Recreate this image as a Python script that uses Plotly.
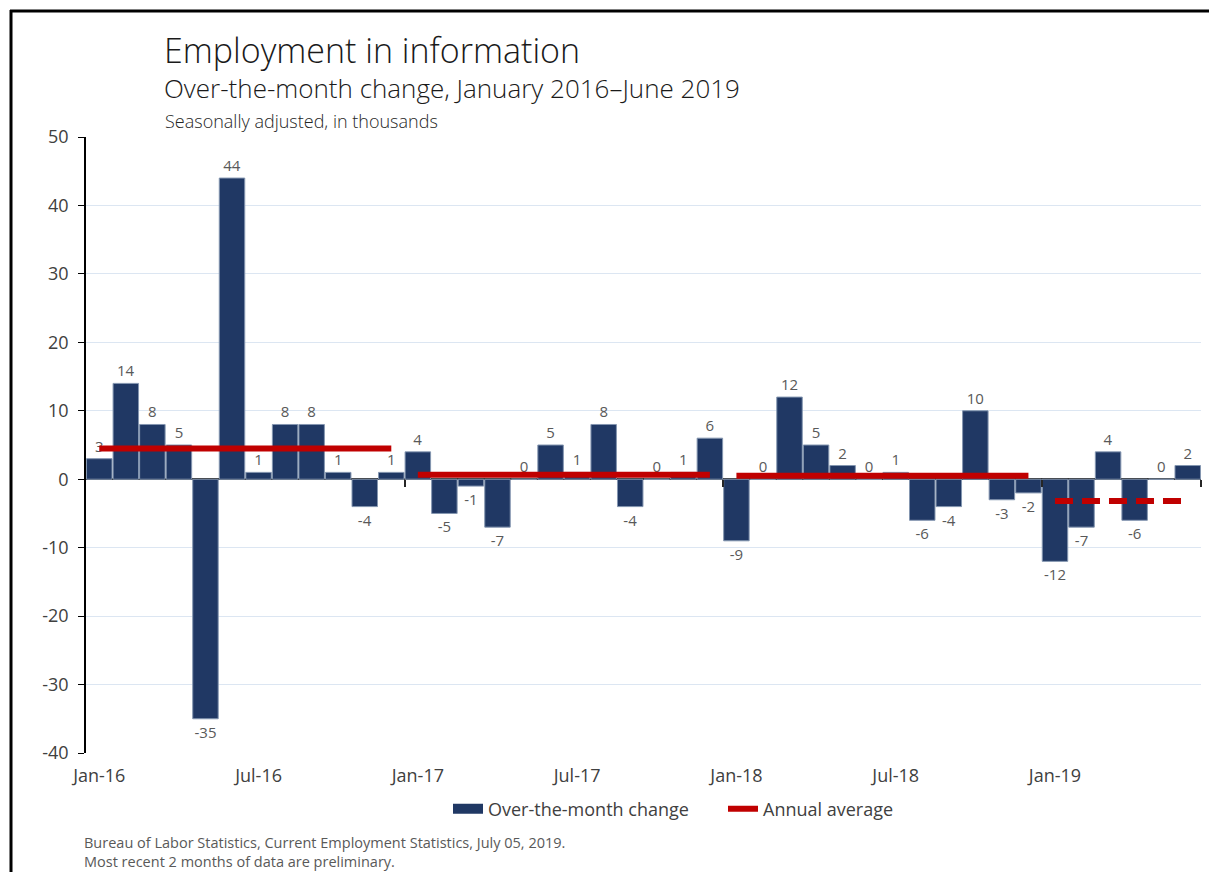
import plotly.graph_objects as go

months = ["Jan-16","Feb-16","Mar-16","Apr-16","May-16","Jun-16","Jul-16","Aug-16","Sep-16","Oct-16","Nov-16","Dec-16",
          "Jan-17","Feb-17","Mar-17","Apr-17","May-17","Jun-17","Jul-17","Aug-17","Sep-17","Oct-17","Nov-17","Dec-17",
          "Jan-18","Feb-18","Mar-18","Apr-18","May-18","Jun-18","Jul-18","Aug-18","Sep-18","Oct-18","Nov-18","Dec-18",
          "Jan-19","Feb-19","Mar-19","Apr-19","May-19","Jun-19"]
changes = [3, 14, 8, 5, -35, 44, 1, 8, 8, 1, -4, 1,
           4, -5, -1, -7, 0, 5, 1, 8, -4, 0, 1, 6,
           -9, 0, 12, 5, 2, 0, 1, -6, -4, 10, -3, -2,
           -12, -7, 4, -6, 0, 2]
years = ["2016", "2017", "2018", "2019"]
annual_avg = [4.5, 0.67, 0.5, -3.17]
tick_labels = ["Jan-16", "Jul-16", "Jan-17", "Jul-17", "Jan-18", "Jul-18", "Jan-19"]
y_ticks = [-40, -30, -20, -10, 0, 10, 20, 30, 40, 50]

FONT = "Open Sans"
BAR = "#203864"
RED = "#c00000"
x_idx = list(range(len(months)))

# page body has an 8px margin: figure origin sits at screen (8, 8)
OFF = 8
PL, PR, PT, PB = 86, 1201, 137, 753  # plot area in screen pixels

fig = go.Figure()
fig.add_trace(go.Bar(
    x=x_idx, y=changes, name="Over-the-month change", showlegend=False,
    marker=dict(color=BAR, line=dict(color="#8496b0", width=1)),
    text=[str(v) for v in changes], textposition="outside",
    textfont=dict(family=FONT, size=15, color="#595959"),
    cliponaxis=False,
))
# legend entry drawn as a wide block like the reference
fig.add_trace(go.Scatter(x=[None], y=[None], mode="lines", name="Over-the-month change",
                         line=dict(color=BAR, width=10)))

for i, (yr, avg) in enumerate(zip(years, annual_avg)):
    xs = [k for k, m in enumerate(months) if m.endswith(yr[-2:])]
    fig.add_trace(go.Scatter(
        x=[xs[0], xs[-1]], y=[avg, avg], mode="lines",
        name="Annual average", showlegend=(i == 0), legendgroup="avg",
        line=dict(color=RED, width=6, dash="18px,9px" if yr == "2019" else "solid"),
    ))

# helper invisible trace for the zero-line tick axis
fig.add_trace(go.Scatter(x=[-0.5, 41.5], y=[0, 0], xaxis="x2", mode="lines",
                         line=dict(width=0), showlegend=False, hoverinfo="skip"))

W, H = 1202, 864
fig.update_layout(
    width=W, height=H,
    margin=dict(l=PL - OFF, r=W - (PR - OFF), t=PT - OFF, b=H - (PB - OFF)),
    paper_bgcolor="white", plot_bgcolor="white",
    font=dict(family=FONT, color="#404040"),
    bargap=0.04,
    xaxis=dict(range=[-0.5, 41.5], tickmode="array",
               tickvals=[months.index(t) for t in tick_labels], ticktext=tick_labels,
               showgrid=False, zeroline=False, showline=False, ticks="",
               ticklabelstandoff=10,
               tickfont=dict(family=FONT, size=18, color="#404040")),
    xaxis2=dict(range=[-0.5, 41.5], overlaying="x", anchor="free",
                position=(0 - (-40)) / 90, side="bottom",
                tickmode="array", tickvals=[11.5, 23.5, 35.5, 41.5],
                showticklabels=False, ticks="outside", ticklen=7, tickwidth=1.5,
                tickcolor="#262626", showgrid=False, zeroline=False, showline=False),
    yaxis=dict(range=[-40, 50], tickmode="array", tickvals=y_ticks,
               ticktext=[str(v) for v in y_ticks],
               showgrid=True, gridcolor="#dce6f2", gridwidth=1,
               zeroline=True, zerolinecolor="#333333", zerolinewidth=1.5,
               showline=True, linecolor="#000000", linewidth=1.5,
               ticks="outside", ticklen=6, tickcolor="#000000",
               ticklabelstandoff=6,
               tickfont=dict(family=FONT, size=18, color="#404040")),
    legend=dict(orientation="h", x=(448 - PL) / (PR - PL), xanchor="left",
                y=(PB - 809) / (PB - PT), yanchor="middle",
                font=dict(family=FONT, size=18, color="#404040"),
                entrywidth=230, entrywidthmode="pixels",
                tracegroupgap=0, bgcolor="rgba(0,0,0,0)"),
    showlegend=True,
)

def py(px):
    return (PB - px) / (PB - PT)

def pxx(px):
    return (px - PL) / (PR - PL)

fig.add_annotation(text="Employment in information", xref="paper", yref="paper",
                   x=pxx(162), y=py(50), xanchor="left", yanchor="middle", showarrow=False,
                   font=dict(family=FONT, size=34, color="#1a1a1a", weight=300))
fig.add_annotation(text="Over-the-month change, January 2016\u2013June 2019", xref="paper", yref="paper",
                   x=pxx(162), y=py(88), xanchor="left", yanchor="middle", showarrow=False,
                   font=dict(family=FONT, size=26, color="#1a1a1a", weight=300))
fig.add_annotation(text="Seasonally adjusted, in thousands", xref="paper", yref="paper",
                   x=pxx(163), y=py(121), xanchor="left", yanchor="middle", showarrow=False,
                   font=dict(family=FONT, size=18, color="#262626", weight=300))
fig.add_annotation(text="Bureau of Labor Statistics, Current Employment Statistics, July 05, 2019.<br>Most recent 2 months of data are preliminary.",
                   xref="paper", yref="paper", x=pxx(82), y=py(831), xanchor="left", yanchor="top",
                   align="left", showarrow=False,
                   font=dict(family=FONT, size=14.5, color="#595959"))

# frame around the chart (left and top edges)
fig.add_shape(type="line", xref="paper", yref="paper", x0=pxx(11), x1=pxx(11), y0=py(10), y1=py(872),
              line=dict(color="black", width=3))
fig.add_shape(type="line", xref="paper", yref="paper", x0=pxx(10), x1=pxx(1209), y0=py(11), y1=py(11),
              line=dict(color="black", width=3))

fig.write_html("out.html")
